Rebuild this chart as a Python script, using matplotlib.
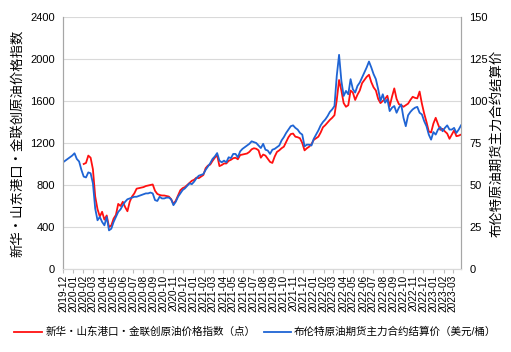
import matplotlib
matplotlib.use("Agg")
import matplotlib.pyplot as plt
import matplotlib.dates as mdates
import pandas as pd

plt.rcParams['font.family'] = ['Liberation Sans', 'Noto Sans CJK SC', 'DejaVu Sans']

# weekly readings, first week starts 2019-12-02
brent = [63.5, 64.5, 65.5, 66.5, 67.5, 68.9, 65.5, 64, 59, 55,
         54.5, 57.5, 57, 51, 36, 29, 31, 28, 26, 31,
         23, 24, 28, 31, 34, 35.5, 38, 40, 41.5, 42,
         42.5, 43, 43, 43.5, 44, 44.5, 45, 45, 45.5, 45,
         41, 40.5, 43, 42, 42, 42.5, 42.5, 41.5, 38, 40,
         43, 45, 47, 48, 49.5, 51, 50.5, 52, 54, 55.5,
         56, 56.5, 59, 61, 63, 65.5, 67, 69, 64.5, 63.5,
         64.5, 63.5, 66.5, 66, 68.5, 68.5, 66.5, 70, 71.5, 72.5,
         73.5, 74.5, 76, 75.5, 75, 73.5, 72, 74.5, 71, 70.5,
         68.5, 71, 71.5, 72.5, 73.5, 76.5, 78.5, 81, 83, 85,
         85.5, 84, 83, 81, 80, 73, 74, 74, 73.5, 77.5,
         80, 82.5, 85.5, 87.5, 89, 91, 93.5, 95, 97, 115,
         127.5, 112, 103, 106, 104, 113, 107, 105, 109, 111,
         114, 117, 120, 123.5, 120, 116, 113, 107, 100, 104,
         99, 101, 94, 96, 97, 93, 96, 98, 90, 85,
         91.5, 93.5, 95, 96, 96.5, 93, 92, 88, 85, 80,
         77, 81.5, 80, 83, 84.5, 82, 84, 85.5, 83, 83,
         84, 81, 83, 85.5]

# index starts 2020-02-03 (week 9)
index_pts = [1000, 1010, 1080, 1060, 950, 690, 570, 500, 545, 470,
             510, 400, 415, 480, 515, 620, 600, 640, 590, 550,
             640, 690, 720, 765, 770, 775, 780, 790, 795, 800,
             805, 745, 715, 705, 700, 700, 695, 690, 665, 620,
             650, 700, 750, 770, 780, 800, 820, 840, 850, 870,
             865, 880, 895, 960, 985, 995, 1030, 1060, 1085, 980,
             990, 1005, 1005, 1030, 1040, 1055, 1060, 1045, 1085, 1090,
             1095, 1100, 1115, 1140, 1150, 1145, 1130, 1060, 1090, 1080,
             1050, 1020, 1010, 1070, 1115, 1130, 1150, 1165, 1210, 1255,
             1285, 1290, 1260, 1255, 1245, 1200, 1130, 1150, 1165, 1190,
             1230, 1245, 1260, 1300, 1350, 1370, 1395, 1420, 1440, 1465,
             1610, 1800, 1700, 1580, 1545, 1560, 1700, 1680, 1610, 1660,
             1700, 1770, 1800, 1830, 1850, 1780, 1730, 1700, 1620, 1580,
             1600, 1620, 1650, 1550, 1640, 1720, 1620, 1570, 1560, 1545,
             1560, 1575, 1610, 1640, 1630, 1625, 1690, 1575, 1480, 1400,
             1310, 1300, 1385, 1440, 1380, 1325, 1335, 1310, 1290, 1240,
             1280, 1320, 1265, 1270, 1280]

red_label = "新华・山东港口・金联创原油价格指数（点）"
blue_label = "布伦特原油期货主力合约结算价（美元/桶）"

dates = pd.date_range("2019-12-02", periods=len(brent), freq="7D")
red_dates = dates[len(brent) - len(index_pts):]

fig = plt.figure(figsize=(5.11, 3.52), dpi=100)
ax = fig.add_axes([63 / 511, 1 - 269 / 352, 398 / 511, 252 / 352])
ax2 = ax.twinx()

l1, = ax.plot(red_dates, index_pts, color="#ff1010", lw=1.3)
l2, = ax2.plot(dates, brent, color="#1f64d4", lw=1.3)

ax.set_ylim(0, 2400)
ax.set_yticks(range(0, 2401, 400))
ax2.set_ylim(0, 150)
ax2.set_yticks(range(0, 151, 25))
ax.set_xlim(dates[0], dates[-1])

# axis ticks fall on the 2nd of each month
ticks = pd.date_range("2019-12-01", "2023-03-01", freq="MS") + pd.Timedelta(days=1)
ax.set_xticks(ticks)
ax.xaxis.set_major_formatter(mdates.DateFormatter("%Y-%m"))
ax.tick_params(axis="x", labelrotation=90, labelsize=7.3, length=3, color="#bfbfbf", pad=1)
ax.tick_params(axis="y", labelsize=8, length=0, pad=6)
ax2.tick_params(axis="y", labelsize=8, length=0, pad=6)

ax.grid(axis="y", color="#d9d9d9", lw=0.8)
for a in (ax, ax2):
    a.spines["top"].set_visible(False)
    a.spines["left"].set_color("#a6a6a6")
    a.spines["right"].set_color("#a6a6a6")
    a.spines["bottom"].set_color("#d9d9d9")

ax.set_ylabel("新华・山东港口・金联创原油价格指数", fontsize=9.6, labelpad=4)
ax2.set_ylabel("布伦特原油期货主力合约结算价", fontsize=9.6, labelpad=2)

fig.legend([l1, l2], [red_label, blue_label], loc="center", bbox_to_anchor=(0.5, 1 - 332 / 352),
           ncol=2, frameon=False, fontsize=7.6, handlelength=2.6, handletextpad=0.3,
           columnspacing=0.8, borderpad=0, borderaxespad=0)

fig.savefig("out.png", dpi=100)
